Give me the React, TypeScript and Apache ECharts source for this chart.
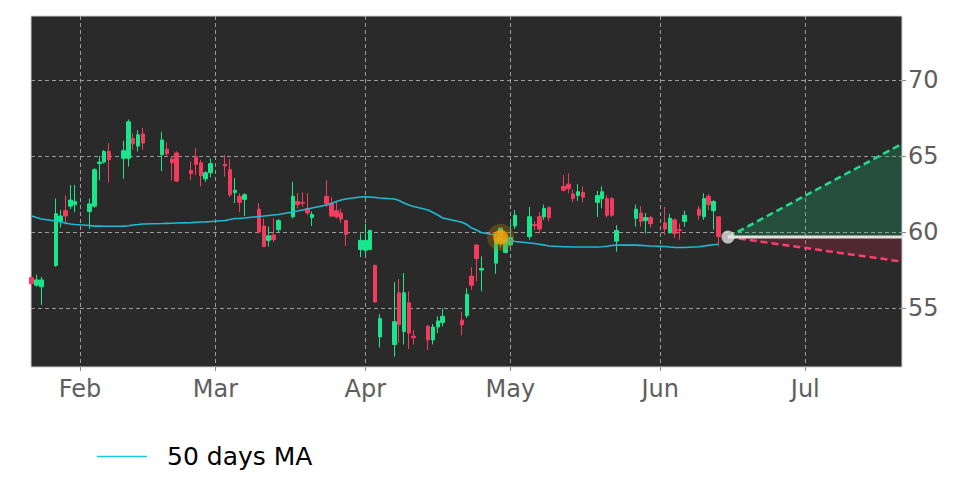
import React, { useEffect, useRef } from "react";
import * as echarts from "echarts";

// ---- data ----
const dates = [
  "2025-01-22","2025-01-23","2025-01-24","2025-01-27","2025-01-28","2025-01-29","2025-01-30","2025-01-31",
  "2025-02-03","2025-02-04","2025-02-05","2025-02-06","2025-02-07","2025-02-10","2025-02-11","2025-02-12","2025-02-13","2025-02-14",
  "2025-02-18","2025-02-19","2025-02-20","2025-02-21","2025-02-24","2025-02-25","2025-02-26","2025-02-27","2025-02-28",
  "2025-03-03","2025-03-04","2025-03-05","2025-03-06","2025-03-07","2025-03-10","2025-03-11","2025-03-12","2025-03-13","2025-03-14",
  "2025-03-17","2025-03-18","2025-03-19","2025-03-20","2025-03-21","2025-03-24","2025-03-25","2025-03-26","2025-03-27","2025-03-28",
  "2025-03-31","2025-04-01","2025-04-02","2025-04-03","2025-04-04","2025-04-07","2025-04-08","2025-04-09","2025-04-10","2025-04-11",
  "2025-04-14","2025-04-15","2025-04-16","2025-04-17","2025-04-21","2025-04-22","2025-04-23","2025-04-24","2025-04-25",
  "2025-04-28","2025-04-29","2025-04-30","2025-05-01","2025-05-02","2025-05-05","2025-05-06","2025-05-07","2025-05-08","2025-05-09",
  "2025-05-12","2025-05-13","2025-05-14","2025-05-15","2025-05-16","2025-05-19","2025-05-20","2025-05-21","2025-05-22","2025-05-23",
  "2025-05-27","2025-05-28","2025-05-29","2025-05-30","2025-06-02","2025-06-03","2025-06-04","2025-06-05","2025-06-06",
  "2025-06-09","2025-06-10","2025-06-11","2025-06-12","2025-06-13",
];
const opens = [
  57.0,56.5,56.4,57.8,60.7,61.4,61.7,61.8,
  61.35,61.7,64.5,64.6,65.3,64.85,64.85,66.15,65.65,66.45,
  65.1,65.45,64.8,65.2,64.05,64.95,64.55,63.5,63.9,
  64.45,64.1,62.6,62.35,62.15,61.5,60.4,59.45,59.8,60.15,
  61.0,62.0,61.95,61.55,60.95,62.35,61.9,61.4,61.25,60.75,
  58.85,58.8,58.85,57.8,53.1,52.6,56.0,53.45,55.35,53.15,
  53.8,52.9,53.75,54.05,54.2,54.5,57.1,59.15,57.5,
  57.95,59.3,58.65,59.15,60.4,59.7,60.5,61.0,61.0,61.6,
  63.0,63.15,62.5,62.4,62.6,61.95,62.2,62.2,62.2,59.4,
  60.9,61.25,60.75,60.95,60.6,59.95,60.8,60.15,60.7,
  61.5,61.0,62.35,61.4,61.0,
];
const closes = [
  56.6,56.85,56.85,61.2,61.05,61.05,62.1,62.0,
  61.85,64.1,64.6,65.3,64.75,65.35,67.25,65.8,66.4,65.85,
  66.05,65.15,64.55,63.35,63.85,64.45,63.7,63.9,64.5,
  64.35,62.45,62.75,61.95,62.45,60.0,59.05,59.75,59.5,60.75,
  62.35,61.8,61.9,61.25,61.15,61.85,61.05,61.0,60.85,59.85,
  59.45,59.45,60.1,55.4,54.3,54.1,53.9,56.0,53.35,53.05,
  52.9,53.75,54.15,54.45,53.9,55.9,56.5,58.25,57.6,
  59.55,60.25,59.5,59.65,61.1,61.0,60.42,60.2,61.55,60.95,
  62.75,62.85,62.2,62.65,62.3,62.4,62.65,61.1,61.1,60.1,
  61.5,60.7,60.95,60.55,60.2,60.9,59.9,60.1,61.1,
  61.1,62.2,61.8,62.0,59.7,
];
const lows = [
  56.4,56.4,55.2,57.7,60.3,60.5,61.5,61.3,
  60.2,61.6,63.4,64.5,63.25,63.5,64.3,65.4,65.3,65.4,
  64.0,64.95,63.4,63.3,63.4,63.75,63.0,63.3,63.6,
  63.65,62.3,61.9,61.3,61.05,59.9,59.0,59.05,59.35,60.0,
  60.9,61.55,61.65,61.1,60.4,61.65,61.0,60.9,60.6,59.1,
  58.35,58.5,58.8,55.35,52.4,51.8,52.7,52.6,52.3,52.6,
  52.25,52.6,53.35,53.8,53.2,54.35,56.2,56.75,56.1,
  57.25,59.0,58.6,59.05,60.2,59.5,60.1,59.9,60.8,60.7,
  62.65,62.55,61.95,62.05,61.95,61.0,61.55,60.95,61.0,58.7,
  60.35,60.35,59.9,60.3,59.8,59.9,59.6,59.5,60.35,
  60.8,60.8,61.45,60.15,59.05,
];
const highs = [
  57.1,57.2,57.05,62.2,61.45,62.4,63.1,63.1,
  62.2,64.2,65.0,65.4,65.85,66.0,67.4,66.5,66.7,66.85,
  66.6,65.9,65.0,65.3,64.65,65.5,64.75,64.0,64.85,
  65.05,64.8,63.55,62.55,62.55,61.9,60.9,60.35,60.9,60.85,
  63.3,62.55,62.6,62.55,61.35,63.4,62.3,62.0,61.55,60.8,
  59.9,60.55,60.15,57.85,54.6,56.7,56.9,57.3,56.1,53.55,
  53.9,53.95,54.45,54.98,54.75,56.3,57.7,59.15,58.4,
  59.7,60.3,59.85,60.6,61.45,61.65,60.7,61.3,61.8,61.7,
  63.75,63.85,62.8,63.15,63.0,62.7,63.0,62.4,62.3,60.45,
  61.8,61.7,61.25,61.05,61.65,61.2,60.9,60.55,61.4,
  61.7,62.55,62.5,62.1,61.05,
];
const ma50 = [
  61.05,60.95,60.86,60.72,60.66,60.59,60.53,60.49,
  60.43,60.39,60.39,60.38,60.38,60.39,60.41,60.46,60.49,60.53,
  60.56,60.57,60.58,60.59,60.62,60.64,60.66,60.67,60.69,
  60.76,60.82,60.89,60.9,60.92,61.02,61.05,61.09,61.12,61.15,
  61.32,61.38,61.45,61.51,61.58,61.78,61.88,62.01,62.11,62.17,
  62.3,62.32,62.3,62.27,62.24,62.17,62.07,61.91,61.78,61.68,
  61.45,61.28,61.12,60.92,60.64,60.49,60.26,60.13,59.97,
  59.8,59.67,59.54,59.44,59.38,59.28,59.24,59.19,59.14,59.08,
  59.03,59.03,59.01,59.01,59.01,59.01,59.03,59.06,59.11,59.14,
  59.14,59.12,59.1,59.08,59.05,59.01,58.99,58.98,58.98,
  59.03,59.08,59.12,59.16,59.19,
];

const yTicks = [55, 60, 65, 70];
const monthTicks = ["2025-02-01","2025-03-01","2025-04-01","2025-05-01","2025-06-01","2025-07-01"];
const monthNames = ["Jan","Feb","Mar","Apr","May","Jun","Jul","Aug","Sep","Oct","Nov","Dec"];

const signalDate = "2025-04-29";
const signalValue = 59.65;
const forecastDates = ["2025-06-15", "2025-07-21"];
const forecastBase = 59.67;
const forecastUp = [59.67, 65.8];
const forecastDown = [59.67, 58.05];

const maName = "50 days MA";

const toTs = (s: string) => {
  const [y, m, d] = s.split("-").map(Number);
  return new Date(y, m - 1, d).getTime();
};
const DAY = 86400000;

export default function App() {
  const ref = useRef<HTMLDivElement>(null);

  useEffect(() => {
    if (!ref.current) return;
    const chart = echarts.init(ref.current, undefined, { renderer: "svg" });

    const xMin = toTs("2025-02-01") - 10.14 * DAY;
    const xMax = toTs("2025-07-21");
    const font = "DejaVu Sans";

    const candles = dates.map((d, i) => [toTs(d), opens[i], closes[i], lows[i], highs[i]]);
    const maData = dates.map((d, i) => [toTs(d), ma50[i]]);
    const fUp = forecastDates.map((d, i) => [toTs(d), forecastUp[i]]);
    const fDown = forecastDates.map((d, i) => [toTs(d), forecastDown[i]]);
    const fBase = forecastDates.map((d) => [toTs(d), forecastBase]);
    const monthTs = monthTicks.map(toTs);

    chart.setOption({
      animation: false,
      backgroundColor: "#ffffff",
      textStyle: { fontFamily: font },
      grid: {
        left: 31,
        top: 16,
        width: 871,
        height: 351,
        show: true,
        backgroundColor: "#2a2a2a",
        borderColor: "#d0d0d0",
        borderWidth: 1,
        containLabel: false,
        outerBoundsMode: "none",
      },
      legend: {
        data: [{ name: maName, icon: "rect" }],
        left: 97,
        top: 444,
        padding: 0,
        itemWidth: 50,
        itemHeight: 1.6,
        textStyle: { fontSize: 25, color: "#000", fontFamily: font, padding: [0, 0, 0, 15] },
      },
      xAxis: {
        type: "value",
        min: xMin,
        max: xMax,
        axisLine: { show: false },
        axisTick: {
          show: true,
          customValues: monthTs,
          length: 4,
          lineStyle: { color: "#888" },
        },
        axisLabel: {
          customValues: monthTs,
          formatter: (v: number) => monthNames[new Date(v).getMonth()],
          color: "#5e5e5e",
          fontSize: 24,
          fontFamily: font,
          margin: 10,
        },
        splitLine: {
          show: true,
          lineStyle: { color: "#a8a8a8", type: [4, 3], width: 0.9 },
        },
      },
      yAxis: {
        type: "value",
        position: "right",
        min: 51.12,
        max: 74.21,
        axisLine: { show: false },
        axisTick: {
          show: true,
          customValues: yTicks,
          length: 4,
          lineStyle: { color: "#888" },
        },
        axisLabel: {
          customValues: yTicks,
          color: "#5e5e5e",
          fontSize: 24,
          fontFamily: font,
          margin: 6,
        },
        splitLine: {
          show: true,
          lineStyle: { color: "#a8a8a8", type: [4, 3], width: 0.9 },
        },
      },
      series: [
        {
          type: "line",
          name: "forecastUp",
          data: fUp,
          symbol: "none",
          lineStyle: { color: "#22dd8e", width: 2.5, type: [7, 4] },
          areaStyle: { origin: forecastBase, color: "rgba(20,200,120,0.33)" },
          z: 3,
        },
        {
          type: "line",
          name: "forecastDown",
          data: fDown,
          symbol: "none",
          lineStyle: { color: "#ff3d6e", width: 2.5, type: [7, 4] },
          areaStyle: { origin: forecastBase, color: "rgba(255,40,80,0.26)" },
          z: 3,
        },
        {
          type: "line",
          name: "forecastBase",
          data: fBase,
          symbol: "none",
          lineStyle: { color: "#e2e2e2", width: 3 },
          z: 4,
        },
        {
          type: "candlestick",
          name: "price",
          data: candles,
          encode: { x: 0, y: [1, 2, 3, 4] },
          barWidth: 4,
          itemStyle: {
            color: "#19e68c",
            color0: "#f23c5e",
            borderColor: "#19e68c",
            borderColor0: "#f23c5e",
            borderWidth: 1,
          },
          z: 5,
        },
        {
          type: "line",
          name: maName,
          data: maData,
          symbol: "none",
          color: "#1cc9e0",
          lineStyle: { color: "#1fbad3", width: 1.6 },
          z: 6,
        },
        {
          type: "scatter",
          name: "signalHalo",
          data: [[toTs(signalDate), signalValue]],
          symbolSize: 27,
          itemStyle: { color: "rgba(190,120,10,0.42)" },
          z: 7,
        },
        {
          type: "scatter",
          name: "signal",
          data: [[toTs(signalDate), signalValue]],
          symbolSize: 15,
          itemStyle: { color: "#ffa200" },
          z: 8,
        },
        {
          type: "scatter",
          name: "lastPoint",
          data: [[toTs(forecastDates[0]), forecastBase]],
          symbolSize: 13,
          itemStyle: { color: "#e0e0e0" },
          z: 8,
        },
      ],
    });

    return () => chart.dispose();
  }, []);

  return (
    <div
      ref={ref}
      style={{ position: "absolute", left: 0, top: 0, width: 972, height: 486 }}
    />
  );
}
